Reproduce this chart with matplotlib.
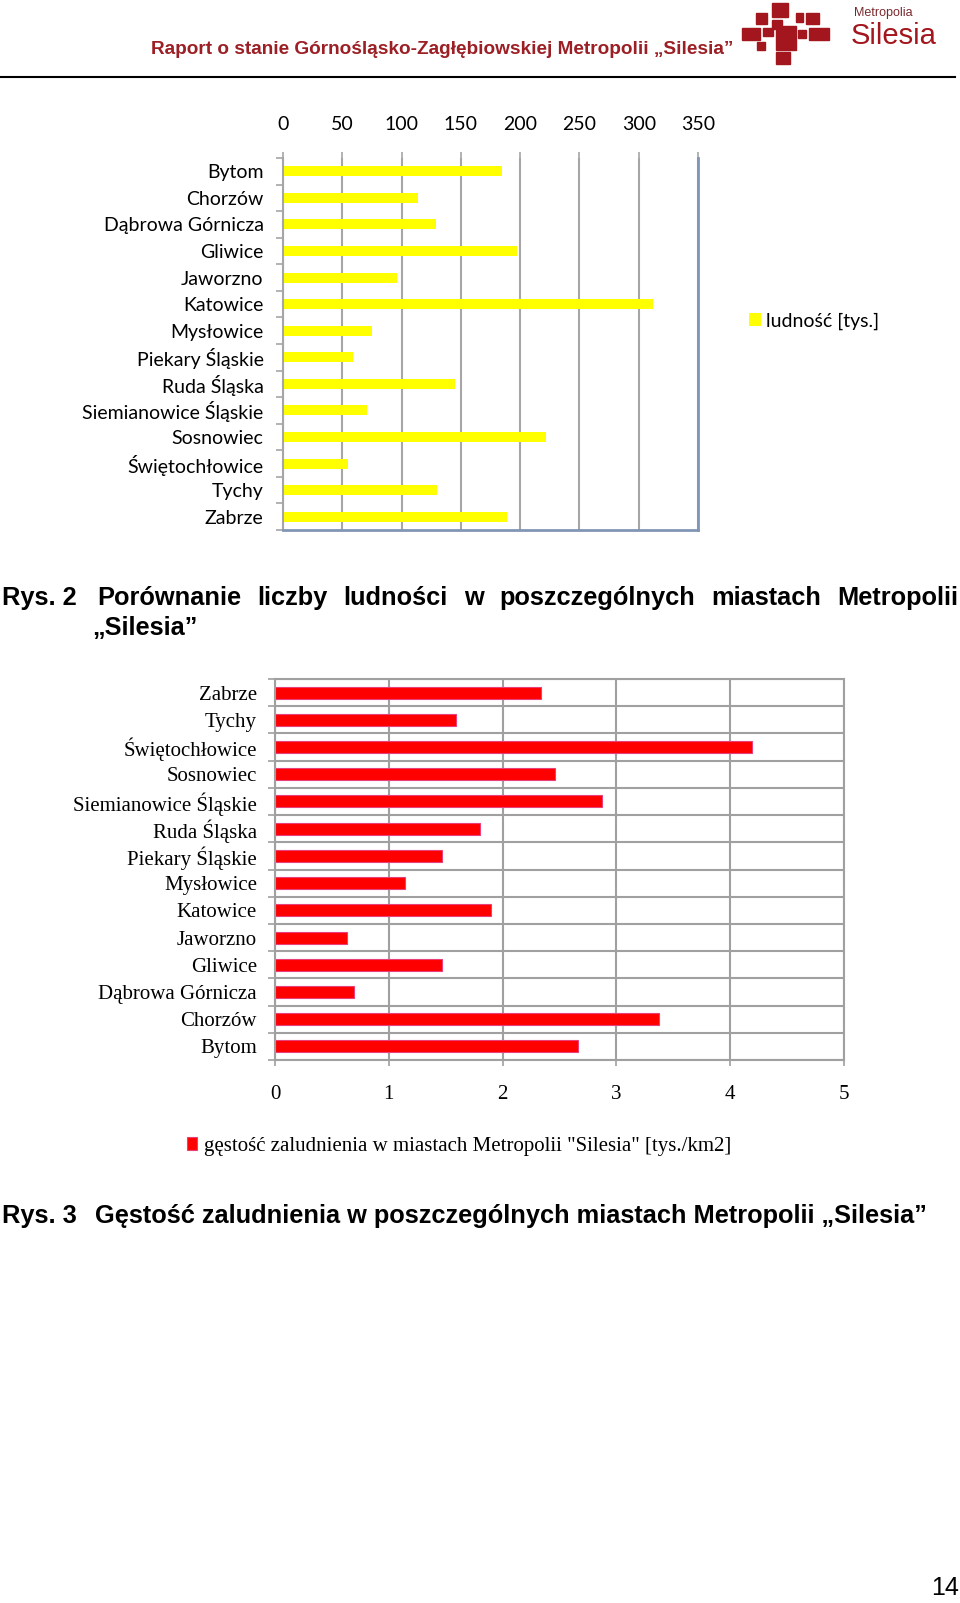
import numpy as np
import matplotlib.pyplot as plt
from matplotlib.patches import Rectangle
from matplotlib.lines import Line2D

# dane
cities = ['Bytom', 'Chorzów', 'Dąbrowa Górnicza', 'Gliwice', 'Jaworzno', 'Katowice',
          'Mysłowice', 'Piekary Śląskie', 'Ruda Śląska', 'Siemianowice Śląskie',
          'Sosnowiec', 'Świętochłowice', 'Tychy', 'Zabrze']
population = [185, 114, 129, 197, 96, 312, 75, 59, 145, 71, 222, 55, 130, 189]
density = [2.66, 3.37, 0.69, 1.47, 0.63, 1.90, 1.14, 1.47, 1.80, 2.87, 2.46, 4.19, 1.59, 2.34]
pop_ticks = [0, 50, 100, 150, 200, 250, 300, 350]
dens_ticks = [0, 1, 2, 3, 4, 5]

W, H = 960, 1603


def fx(x):
    return x / W


def fy(y):
    return 1 - y / H


fig = plt.figure(figsize=(9.6, 16.03), dpi=100)
narrow = ['Liberation Sans Narrow', 'Liberation Sans']

# naglowek
fig.text(fx(151), fy(49), 'Raport o stanie Górnośląsko-Zagłębiowskiej Metropolii „Silesia”',
         ha='left', va='center', color='#9b1f24', fontsize=13.7, fontweight='bold',
         family=narrow)
fig.add_artist(Line2D([0, fx(955)], [fy(77), fy(77)], color='black', lw=1.5,
                      transform=fig.transFigure))

# logo (kwadraty)
logo = [(772, 3, 788, 17), (756, 13, 767, 24), (772, 20, 782, 29), (796, 13, 803, 22),
        (806, 13, 819, 24), (742, 28, 760, 40), (763, 28, 773, 36), (776, 26, 796, 50),
        (798, 30, 806, 38), (809, 28, 829, 40), (757, 42, 765, 50), (776, 52, 790, 64),
        (786, 40, 794, 48)]
for x0, y0, x1, y1 in logo:
    fig.add_artist(Rectangle((fx(x0), fy(y1)), (x1 - x0) / W, (y1 - y0) / H,
                             color='#a3161d', transform=fig.transFigure))
fig.text(fx(854), fy(13), 'Metropolia', ha='left', va='center', color='#7a2a2e',
         fontsize=9, family=narrow)
fig.text(fx(851), fy(36), 'Silesia', ha='left', va='center', color='#a3161d',
         fontsize=21, family=narrow)

# wykres 1 - ludnosc
ax1 = fig.add_axes([fx(283), fy(530), (698 - 283) / W, (530 - 158) / H])
y = np.arange(len(cities))
bars1 = ax1.barh(y, population, height=0.38, color='#ffff00', label='ludność [tys.]')
ax1.set_xlim(0, 350)
ax1.set_ylim(len(cities) - 0.5, -0.5)
ax1.set_xticks(pop_ticks)
ax1.xaxis.tick_top()
ax1.grid(axis='x', color='#a6a6a6', lw=1.5)
ax1.set_axisbelow(True)
ax1.set_yticks(y)
ax1.set_yticklabels(cities, fontsize=14, family='Lato')
ax1.set_yticks(np.arange(-0.5, len(cities)), minor=True)
ax1.tick_params(axis='y', which='major', length=0, pad=14)
ax1.tick_params(axis='y', which='minor', length=5, color='#a6a6a6', width=1.2)
ax1.tick_params(axis='x', length=4, color='#a6a6a6', width=1.2, pad=14, labelsize=14)
for lab in ax1.get_xticklabels():
    lab.set_family('Lato')
ax1.spines['top'].set_visible(False)
ax1.spines['left'].set_color('#a6a6a6')
ax1.spines['left'].set_linewidth(1.5)
for s in ['bottom', 'right']:
    ax1.spines[s].set_color('#8096b4')
    ax1.spines[s].set_linewidth(2)

fig.legend(handles=[bars1], loc='center left', bbox_to_anchor=(fx(749), fy(321)),
           frameon=False, handlelength=0.6, handleheight=0.6, handletextpad=0.3,
           borderpad=0, borderaxespad=0, prop={'family': 'Lato', 'size': 14})

# podpis rys. 2 (wyjustowany)
cap = dict(fontsize=18.3, fontweight='bold', family='Liberation Sans', va='center')
fig.text(fx(2), fy(598), 'Rys. 2', ha='left', **cap)
words = ['Porównanie', 'liczby', 'ludności', 'w', 'poszczególnych', 'miastach', 'Metropolii']
x_start, x_end = 97, 958
texts = [fig.text(0, fy(598), w, ha='left', **cap) for w in words]
r = fig.canvas.get_renderer()
widths = [t.get_window_extent(r).width for t in texts]
gap = (x_end - x_start - sum(widths)) / (len(words) - 1)
xc = x_start
for t, wd in zip(texts, widths):
    t.set_x(fx(xc))
    xc += wd + gap
fig.text(fx(92), fy(628), '„Silesia”', ha='left', **cap)

# wykres 2 - gestosc zaludnienia
ax2 = fig.add_axes([fx(275), fy(1060), (844 - 275) / W, (1060 - 679) / H])
bars2 = ax2.barh(y, density, height=0.44, color='#ff0000', edgecolor='#e8407a', lw=0.8,
                 label='gęstość zaludnienia w miastach Metropolii "Silesia" [tys./km2]')
ax2.set_xlim(0, 5)
ax2.set_ylim(-0.5, len(cities) - 0.5)
ax2.set_xticks(dens_ticks)
ax2.set_yticks(y)
ax2.set_yticklabels(cities, fontsize=15, family='Liberation Serif')
ax2.set_yticks(np.arange(-0.5, len(cities)), minor=True)
ax2.grid(axis='x', which='major', color='#a0a0a0', lw=1.5)
ax2.grid(axis='y', which='minor', color='#a0a0a0', lw=1.5)
ax2.set_axisbelow(True)
ax2.tick_params(axis='y', which='major', length=0, pad=13)
ax2.tick_params(axis='y', which='minor', length=5, color='#a0a0a0', width=1.2)
ax2.tick_params(axis='x', length=4, color='#a0a0a0', width=1.2, pad=14, labelsize=15)
for lab in ax2.get_xticklabels():
    lab.set_family('Liberation Serif')
for s in ax2.spines.values():
    s.set_color('#a0a0a0')
    s.set_linewidth(1.5)

fig.legend(handles=[bars2], loc='center left', bbox_to_anchor=(fx(187), fy(1146)),
           frameon=False, handlelength=0.5, handleheight=0.6, handletextpad=0.3,
           borderpad=0, borderaxespad=0, prop={'family': 'Liberation Serif', 'size': 15})

# podpis rys. 3
fig.text(fx(2), fy(1216), 'Rys. 3', ha='left', **cap)
fig.text(fx(95), fy(1216), 'Gęstość zaludnienia w poszczególnych miastach Metropolii „Silesia”',
         ha='left', **cap)

# numer strony
fig.text(fx(959), fy(1588), '14', ha='right', va='center', fontsize=18, family=narrow)

fig.savefig('out.png', dpi=100)
